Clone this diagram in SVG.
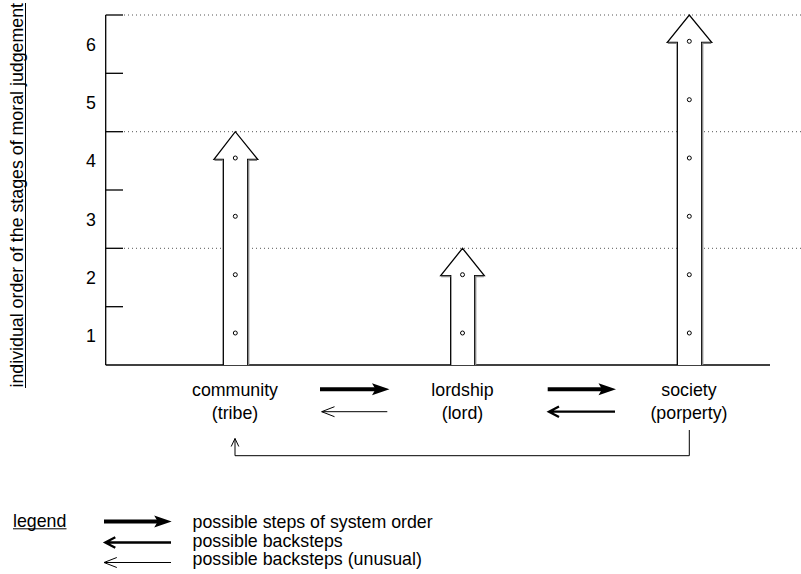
<svg xmlns="http://www.w3.org/2000/svg" width="801" height="574" viewBox="0 0 801 574">
<style>
text{font-family:"Liberation Sans",Arial,sans-serif;font-size:17.8px;fill:#000}
.c{text-anchor:middle}
.ax{stroke:#000;stroke-width:1.3;fill:none}
.dot{stroke:#555;stroke-width:1;stroke-dasharray:1 3;fill:none}
.big{fill:#fff;stroke:#000;stroke-width:1.3}
.sh{stroke:#888;stroke-width:1.5;fill:none}
.pt{fill:#fff;stroke:#000;stroke-width:1}
.thick{stroke:#000;stroke-width:4;fill:none}
.med{stroke:#000;stroke-width:2.3;fill:none}
.thin{stroke:#000;stroke-width:1;fill:none}
</style>
<g id="axis">
<line class="ax" x1="105.7" y1="15" x2="105.7" y2="365"/>
<line class="ax" x1="105.7" y1="365" x2="770" y2="365"/>
<line class="ax" x1="105.7" y1="15" x2="123" y2="15"/>
<line class="ax" x1="105.7" y1="73.3" x2="123" y2="73.3"/>
<line class="ax" x1="105.7" y1="131.7" x2="123" y2="131.7"/>
<line class="ax" x1="105.7" y1="190" x2="123" y2="190"/>
<line class="ax" x1="105.7" y1="248.3" x2="123" y2="248.3"/>
<line class="ax" x1="105.7" y1="306.7" x2="123" y2="306.7"/>
<line class="dot" x1="124" y1="15" x2="801" y2="15"/>
<line class="dot" x1="124" y1="131.7" x2="801" y2="131.7"/>
<line class="dot" x1="124" y1="248.3" x2="801" y2="248.3"/>
<text class="c" x="91" y="50.5">6</text>
<text class="c" x="91" y="108.8">5</text>
<text class="c" x="91" y="167.1">4</text>
<text class="c" x="91" y="225.5">3</text>
<text class="c" x="91" y="283.8">2</text>
<text class="c" x="91" y="342.1">1</text>
<text transform="translate(22.5,3) rotate(-90)" text-anchor="end">individual order of the stages of moral judgement</text>
<line class="thin" x1="25.5" y1="3" x2="25.5" y2="388"/>
</g>
<g id="community">
<path class="big" d="M223.3,365 V159.3 H214 L235.3,131.7 L257.7,159.3 H247.7 V365"/>
<path class="sh" d="M214.5,160.2 H223 M248,160.2 H257 M248.6,160 V365"/>
<circle class="pt" cx="235.3" cy="158" r="2"/>
<circle class="pt" cx="235.3" cy="216.3" r="2"/>
<circle class="pt" cx="235.3" cy="274.7" r="2"/>
<circle class="pt" cx="235.3" cy="333" r="2"/>
<text class="c" x="235" y="396">community</text>
<text class="c" x="235" y="419">(tribe)</text>
</g>
<g id="lordship">
<path class="big" d="M450.7,365 V275.7 H440.7 L462.5,248.3 L484.3,275.7 H474.7 V365"/>
<path class="sh" d="M441.2,276.6 H450.4 M475,276.6 H483.8 M475.6,276.4 V365"/>
<circle class="pt" cx="462.5" cy="274.7" r="2"/>
<circle class="pt" cx="462.5" cy="333" r="2"/>
<text class="c" x="462.5" y="396">lordship</text>
<text class="c" x="462.5" y="419">(lord)</text>
</g>
<g id="society">
<path class="big" d="M677.3,365 V42.3 H667.3 L689.3,15 L711.7,42.3 H701.7 V365"/>
<path class="sh" d="M667.8,43.2 H677 M702,43.2 H711.2 M702.6,43 V365"/>
<circle class="pt" cx="689.3" cy="41.3" r="2"/>
<circle class="pt" cx="689.3" cy="99.7" r="2"/>
<circle class="pt" cx="689.3" cy="158" r="2"/>
<circle class="pt" cx="689.3" cy="216.3" r="2"/>
<circle class="pt" cx="689.3" cy="274.7" r="2"/>
<circle class="pt" cx="689.3" cy="333" r="2"/>
<text class="c" x="689" y="396">society</text>
<text class="c" x="689" y="419">(porperty)</text>
</g>
<g id="connectors">
<path class="thick" d="M320,389.3 H376"/>
<path d="M389.5,389.3 L372,383.3 L375.5,389.3 L372,395.3 Z"/>
<path class="thin" d="M321.7,411.7 H387.3 M334.5,406.7 L321.7,411.7 L334.5,416.7"/>
<path class="thick" d="M547.7,389.3 H603"/>
<path d="M616,389.3 L598.5,383.3 L602,389.3 L598.5,395.3 Z"/>
<path class="med" d="M549,411.7 H615 M559,406.5 L549,411.7 L559,417"/>
<path class="thin" d="M689.3,430 V455.7 H235 V438.5 M231.2,446.5 L235,438.5 L238.8,446.5"/>
</g>
<g id="legend">
<text x="13" y="527">legend</text>
<line class="thin" x1="13" y1="528.8" x2="66.5" y2="528.8"/>
<path class="thick" d="M104,521.5 H158"/>
<path d="M171.7,521.5 L154.2,515.5 L157.7,521.5 L154.2,527.5 Z"/>
<path class="med" d="M105.3,542.5 H171 M115.3,537.3 L105.3,542.5 L115.3,547.8"/>
<path class="thin" d="M104,562.5 H171 M116.8,557.5 L104,562.5 L116.8,567.5"/>
<text x="192.5" y="528">possible steps of system order</text>
<text x="192.5" y="546.5">possible backsteps</text>
<text x="192.5" y="565">possible backsteps (unusual)</text>
</g>
</svg>
